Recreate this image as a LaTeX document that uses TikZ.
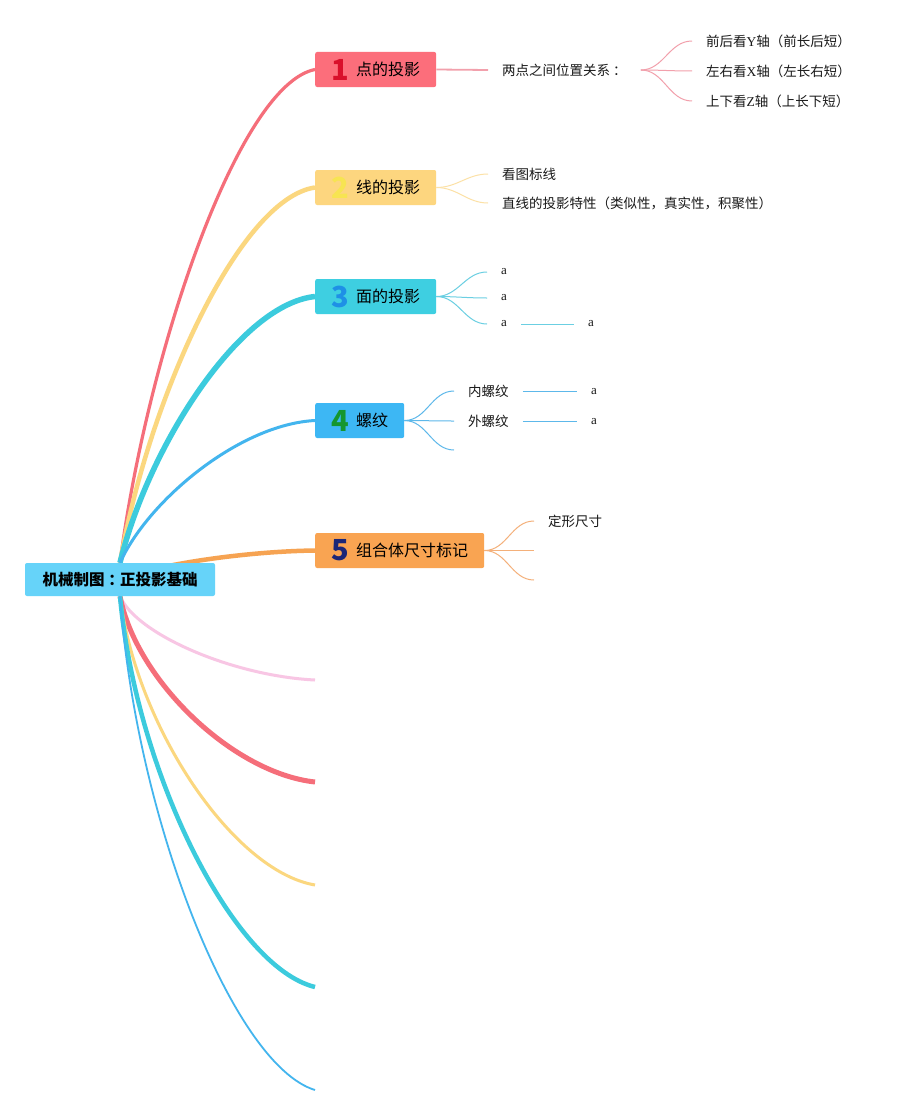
\documentclass[tikz,border=0pt]{standalone}
\usepackage{fontspec}
\newfontfamily\cjk{Noto Sans CJK SC}
\newfontfamily\lat{Liberation Serif}
\usetikzlibrary{backgrounds}
\definecolor{rootc}{HTML}{66D3F9}
\definecolor{tA}{HTML}{FC6E7B}\definecolor{nA}{HTML}{D9102B}
\definecolor{tB}{HTML}{FDD67F}\definecolor{nB}{HTML}{F7E452}
\definecolor{tC}{HTML}{3ECFE1}\definecolor{nC}{HTML}{1E90E6}
\definecolor{tD}{HTML}{3DB7F4}\definecolor{nD}{HTML}{15962F}
\definecolor{tE}{HTML}{F9A452}\definecolor{nE}{HTML}{1C2777}
\definecolor{cR}{HTML}{F56E7A}
\definecolor{cY}{HTML}{FBD77F}
\definecolor{cC}{HTML}{3CCBDD}
\definecolor{cB}{HTML}{43B5EE}
\definecolor{cO}{HTML}{F6A352}
\definecolor{cP}{HTML}{F8C6E4}
\definecolor{fA}{HTML}{F2A0AC}
\definecolor{fB}{HTML}{FCE1A6}
\definecolor{fC}{HTML}{6BCFE2}
\definecolor{fD}{HTML}{5DB8EA}
\definecolor{fE}{HTML}{F4B07A}
\newcommand\numb[2]{\raisebox{-4.5pt}{\color{#1}\fontsize{29}{29}\selectfont\bfseries #2}\hspace{7pt}}
\begin{document}
\begin{tikzpicture}[x=1pt,y=-1pt,
  topic/.style={rounded corners=2pt, minimum height=35pt, inner sep=0pt, anchor=west,
    font=\cjk\fontsize{16}{16}\selectfont, text=black},
  sub/.style={inner xsep=14pt, inner ysep=2pt, anchor=west,
    font=\cjk\fontsize{13.5}{16}\selectfont, text=black!90},
  leaf/.style={inner xsep=14pt, inner ysep=2pt, anchor=west,
    font=\lat\fontsize{13}{15}\selectfont, text=black!90},
  fan/.style={line width=1pt},
]
\useasboundingbox (0,0) rectangle (918,1116);

% root
\node[fill=rootc, rounded corners=2pt, minimum width=190pt, minimum height=33pt, inner sep=0pt,
  font=\cjk\bfseries\fontsize{15.5}{16}\selectfont] (root) at (120,579.5) {机械制图\kern4pt：\kern-4pt正投影基础};

% main topics
\node[topic, fill=tA, minimum width=121pt] (t1) at (315,69.5) {\numb{nA}{1}点的投影};
\node[topic, fill=tB, minimum width=121pt] (t2) at (315,187.5) {\numb{nB}{2}线的投影};
\node[topic, fill=tC, minimum width=121pt] (t3) at (315,296.5) {\numb{nC}{3}面的投影};
\node[topic, fill=tD, minimum width=89pt] (t4) at (315,420.5) {\numb{nD}{4}螺纹};
\node[topic, fill=tE, minimum width=169pt] (t5) at (315,550.5) {\numb{nE}{5}组合体尺寸标记};

% empty branch ends
\coordinate (e1) at (315,680);
\coordinate (e2) at (315,782);
\coordinate (e3) at (315,885);
\coordinate (e4) at (315,987);
\coordinate (e5) at (315,1090);

\begin{scope}[on background layer]
\fill[white] (0,0) rectangle (918,1116);
\draw[line width=3.2pt, cR] (root.north) .. controls +(28,-213) and +(-76,15) .. (t1.west);
\draw[line width=4.5pt, cY] (root.north) .. controls +(28,-162) and +(-76,11) .. (t2.west);
\draw[line width=5.5pt, cC] (root.north) .. controls +(28,-115) and +(-76,8) .. (t3.west);
\draw[line width=3pt, cB] (root.north) .. controls +(28,-62) and +(-76,4) .. (t4.west);
\draw[line width=4.5pt, cO] (root.center) .. controls +(28,-13) and +(-76,1) .. (t5.west);
\draw[line width=3pt, cP] (root.south) .. controls +(16,38) and +(-82,-4) .. (e1);
\draw[line width=5pt, cR] (root.south) .. controls +(16,84) and +(-82,-9) .. (e2);
\draw[line width=3pt, cY] (root.south) .. controls +(16,130) and +(-82,-14) .. (e3);
\draw[line width=4.5pt, cC] (root.south) .. controls +(16,176) and +(-82,-20) .. (e4);
\draw[line width=1.8pt, cB] (root.south) .. controls +(16,222) and +(-82,-25) .. (e5);
\end{scope}

% topic 1
\node[sub] (s1) at (488,70) {两点之间位置关系\kern3pt：};
\draw[fA, line width=1.8pt] (t1.east) -- (s1.west);
\node[sub] (s11) at (692,41) {前后看{\lat Y}轴（前长后短）};
\node[sub] (s12) at (692,71) {左右看{\lat X}轴（左长右短）};
\node[sub] (s13) at (692,101) {上下看{\lat Z}轴（上长下短）};
\draw[fan, fA] (s1.east) to[out=0,in=180] (s11.west);
\draw[fan, fA] (s1.east) to[out=0,in=180] (s12.west);
\draw[fan, fA] (s1.east) to[out=0,in=180] (s13.west);

% topic 2
\node[sub] (s21) at (488,174) {看图标线};
\node[sub] (s22) at (488,203) {直线的投影特性（类似性，真实性，积聚性）};
\draw[fan, fB] (t2.east) to[out=0,in=180] (s21.west);
\draw[fan, fB] (t2.east) to[out=0,in=180] (s22.west);

% topic 3
\node[leaf] (a1) at (487,272) {a};
\node[leaf] (a2) at (487,298) {a};
\node[leaf] (a3) at (487,324) {a};
\node[leaf] (a4) at (574,324) {a};
\draw[fan, fC] (t3.east) to[out=0,in=180] (a1.west);
\draw[fan, fC] (t3.east) to[out=0,in=180] (a2.west);
\draw[fan, fC] (t3.east) to[out=0,in=180] (a3.west);
\draw[fan, fC] (a3.east) -- (a4.west);

% topic 4
\node[sub] (s41) at (454,391) {内螺纹};
\node[sub] (s42) at (454,421) {外螺纹};
\coordinate (e43) at (454,450);
\node[leaf] (b1) at (577,392) {a};
\node[leaf] (b2) at (577,422) {a};
\draw[fan, fD] (t4.east) to[out=0,in=180] (s41.west);
\draw[fan, fD] (t4.east) to[out=0,in=180] (s42.west);
\draw[fan, fD] (t4.east) to[out=0,in=180] (e43);
\draw[fan, fD] (s41.east) -- (b1.west |- s41.east);
\draw[fan, fD] (s42.east) -- (b2.west |- s42.east);

% topic 5
\node[sub] (s51) at (534,521) {定形尺寸};
\coordinate (e52) at (534,550.5);
\coordinate (e53) at (534,580);
\draw[fan, fE] (t5.east) to[out=0,in=180] (s51.west);
\draw[fan, fE] (t5.east) to[out=0,in=180] (e52);
\draw[fan, fE] (t5.east) to[out=0,in=180] (e53);
\end{tikzpicture}
\end{document}
